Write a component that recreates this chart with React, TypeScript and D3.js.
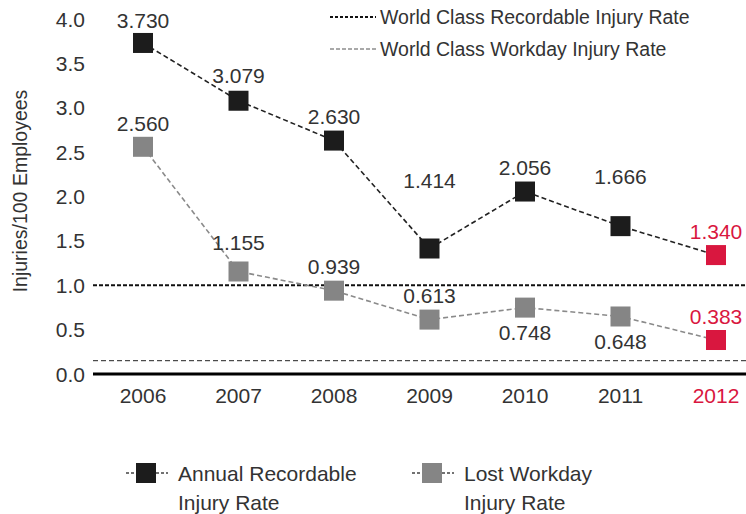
import React, { useEffect, useRef } from 'react';
import * as d3 from 'd3';

const years = ['2006', '2007', '2008', '2009', '2010', '2011', '2012'];
const recordable = [3.73, 3.079, 2.63, 1.414, 2.056, 1.666, 1.34];
const lostWorkday = [2.56, 1.155, 0.939, 0.613, 0.748, 0.648, 0.383];
const yTicks = [0, 0.5, 1, 1.5, 2, 2.5, 3, 3.5, 4];
const worldClassRecordable = 1.0;
const worldClassWorkday = 0.15;

// label offsets (px from marker centre)
const recordableLabelDy = [-23, -25, -24, -68, -24, -50, -24];
const workdayLabelDy = [-23, -29, -24, -24, 25, 25, -24];

const W = 746, H = 514;
const RED = '#d9173f';
const TXT = '#333';
const FONT = '"Liberation Sans", Arial, Helvetica, sans-serif';

export default function App() {
  const ref = useRef<SVGSVGElement>(null);

  useEffect(() => {
    const svg = d3.select(ref.current);
    svg.selectAll('*').remove();

    const x = d3.scalePoint().domain(years).range([143, 716]);
    const y = d3.scaleLinear().domain([0, 4]).range([374, 19]);
    const isLast = (i: number) => i === years.length - 1;

    // y tick labels
    svg.append('g').selectAll('text').data(yTicks).enter().append('text')
      .attr('x', 85).attr('y', (d) => y(d)).attr('dy', '0.36em')
      .attr('text-anchor', 'end').attr('font-size', 21).attr('fill', TXT)
      .text((d) => d3.format('.1f')(d));

    svg.append('text')
      .attr('transform', 'translate(27,191) rotate(-90)')
      .attr('text-anchor', 'middle').attr('font-size', 19.5).attr('fill', TXT)
      .text('Injuries/100 Employees');

    // world class reference lines
    svg.append('line').attr('x1', 93).attr('x2', W).attr('y1', y(worldClassRecordable)).attr('y2', y(worldClassRecordable))
      .attr('stroke', '#111').attr('stroke-width', 2).attr('stroke-dasharray', '4,2');
    svg.append('line').attr('x1', 93).attr('x2', W).attr('y1', y(worldClassWorkday)).attr('y2', y(worldClassWorkday))
      .attr('stroke', '#222').attr('stroke-width', 1).attr('stroke-dasharray', '5,3');

    // x axis
    svg.append('line').attr('x1', 93).attr('x2', W).attr('y1', y(0)).attr('y2', y(0))
      .attr('stroke', '#000').attr('stroke-width', 3);
    svg.append('g').selectAll('text').data(years).enter().append('text')
      .attr('x', (d) => x(d) as number).attr('y', 395).attr('dy', '0.36em')
      .attr('text-anchor', 'middle').attr('font-size', 21)
      .attr('fill', (d, i) => (isLast(i) ? RED : TXT))
      .text((d) => d);

    const drawSeries = (vals: number[], color: string, lineColor: string, dys: number[]) => {
      const line = d3.line<number>().x((d, i) => x(years[i]) as number).y((d) => y(d));
      svg.append('path').datum(vals).attr('d', line).attr('fill', 'none')
        .attr('stroke', lineColor).attr('stroke-width', 1.6).attr('stroke-dasharray', '5,3');
      svg.append('g').selectAll('rect').data(vals).enter().append('rect')
        .attr('x', (d, i) => (x(years[i]) as number) - 10).attr('y', (d) => y(d) - 10)
        .attr('width', 20).attr('height', 20)
        .attr('fill', (d, i) => (isLast(i) ? RED : color));
      svg.append('g').selectAll('text').data(vals).enter().append('text')
        .attr('x', (d, i) => x(years[i]) as number).attr('y', (d, i) => y(d) + dys[i])
        .attr('dy', '0.36em').attr('text-anchor', 'middle').attr('font-size', 21)
        .attr('fill', (d, i) => (isLast(i) ? RED : TXT))
        .text((d) => d3.format('.3f')(d));
    };
    drawSeries(lostWorkday, '#858585', '#8a8a8a', workdayLabelDy);
    drawSeries(recordable, '#1c1c1c', '#222', recordableLabelDy);

    // top legend
    const topLegend = [
      { label: 'World Class Recordable Injury Rate', stroke: '#111', w: 2, dash: '3,2', yy: 17 },
      { label: 'World Class Workday Injury Rate', stroke: '#555', w: 1.2, dash: '4,2', yy: 49 },
    ];
    topLegend.forEach((l) => {
      svg.append('line').attr('x1', 330).attr('x2', 376).attr('y1', l.yy).attr('y2', l.yy)
        .attr('stroke', l.stroke).attr('stroke-width', l.w).attr('stroke-dasharray', l.dash);
      svg.append('text').attr('x', 380).attr('y', l.yy).attr('dy', '0.36em')
        .attr('font-size', 19.5).attr('fill', TXT).text(l.label);
    });

    // bottom legend
    const bottomLegend = [
      { lines: ['Annual Recordable', 'Injury Rate'], color: '#1c1c1c', cx: 146 },
      { lines: ['Lost Workday', 'Injury Rate'], color: '#858585', cx: 432 },
    ];
    bottomLegend.forEach((l) => {
      svg.append('line').attr('x1', l.cx - 20).attr('x2', l.cx + 22).attr('y1', 473).attr('y2', 473)
        .attr('stroke', '#444').attr('stroke-width', 1.5).attr('stroke-dasharray', '3,2');
      svg.append('rect').attr('x', l.cx - 10).attr('y', 463).attr('width', 20).attr('height', 20).attr('fill', l.color);
      l.lines.forEach((t, i) => {
        svg.append('text').attr('x', l.cx + 32).attr('y', 473 + i * 29).attr('dy', '0.36em')
          .attr('font-size', 21).attr('fill', TXT).text(t);
      });
    });
  }, []);

  return (
    <svg ref={ref} width={W} height={H} style={{ display: 'block', position: 'absolute', left: 0, top: 0, fontFamily: FONT, background: '#fff' }} />
  );
}
